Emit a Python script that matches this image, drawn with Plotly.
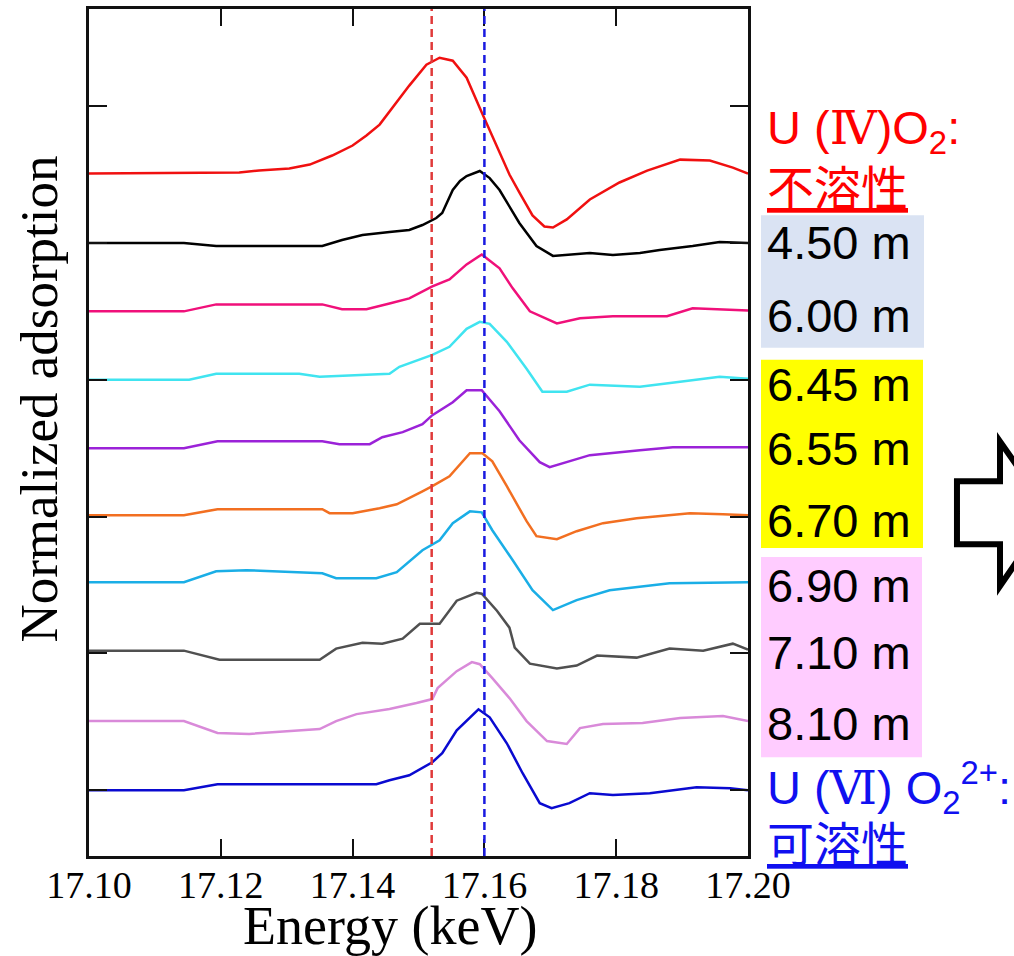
import plotly.graph_objects as go

# ---------------- data (energy in keV, normalized absorption relative to baseline) -------------
E_U4 = [17.1000, 17.1228, 17.1258, 17.1304, 17.1335, 17.1369, 17.1400, 17.1421, 17.1441, 17.1460,
        17.1486, 17.1512, 17.1532, 17.1552, 17.1573, 17.1596, 17.1616, 17.1638, 17.1653, 17.1673,
        17.1691, 17.1704, 17.1725, 17.1760, 17.1805, 17.1847, 17.1897, 17.1942, 17.1977, 17.2000]
A_U4 = [0.007, 0.015, 0.029, 0.044, 0.073, 0.139, 0.212, 0.285, 0.365, 0.489,
        0.650, 0.803, 0.854, 0.832, 0.708, 0.453, 0.234, 0.0, -0.131, -0.299,
        -0.380, -0.387, -0.328, -0.182, -0.058, 0.029, 0.109, 0.102, 0.051, 0.007]

E_450 = [17.1000, 17.1144, 17.1193, 17.1354, 17.1384, 17.1415, 17.1456, 17.1486, 17.1506, 17.1527,
         17.1536, 17.1543, 17.1552, 17.1563, 17.1573, 17.1593, 17.1608, 17.1623, 17.1653, 17.1679,
         17.1704, 17.1760, 17.1795, 17.1836, 17.1866, 17.1916, 17.1957, 17.2000]
A_450 = [0, 0, -0.022, -0.022, 0.022, 0.058, 0.080, 0.095, 0.131, 0.182,
         0.219, 0.292, 0.387, 0.453, 0.489, 0.526, 0.474, 0.387, 0.146, -0.022,
         -0.095, -0.073, -0.088, -0.073, -0.051, -0.022, 0.007, 0]

E_600 = [17.1000, 17.1144, 17.1193, 17.1354, 17.1384, 17.1421, 17.1456, 17.1486, 17.1521, 17.1547,
         17.1573, 17.1596, 17.1623, 17.1643, 17.1669, 17.1710, 17.1745, 17.1795, 17.1877, 17.1916,
         17.2000]
A_600 = [0, 0, 0.051, 0.051, 0.015, 0.015, 0.058, 0.095, 0.182, 0.234,
         0.343, 0.416, 0.314, 0.168, 0.0, -0.088, -0.051, -0.036, -0.036, 0.022,
         0.007]

E_645 = [17.1000, 17.1152, 17.1193, 17.1319, 17.1350, 17.1421, 17.1456, 17.1471, 17.1521, 17.1547,
         17.1573, 17.1593, 17.1608, 17.1634, 17.1664, 17.1688, 17.1725, 17.1760, 17.1836, 17.1897,
         17.1957, 17.2000]
A_645 = [0, 0, 0.044, 0.044, 0.022, 0.036, 0.044, 0.095, 0.182, 0.241,
         0.372, 0.423, 0.409, 0.277, 0.080, -0.088, -0.088, -0.036, -0.051, -0.015,
         0.022, 0.007]

E_655 = [17.1000, 17.1144, 17.1195, 17.1354, 17.1380, 17.1426, 17.1445, 17.1476, 17.1506, 17.1521,
         17.1552, 17.1573, 17.1596, 17.1623, 17.1653, 17.1684, 17.1699, 17.1725, 17.1760, 17.1836,
         17.1886, 17.2000]
A_655 = [0, 0, 0.051, 0.051, 0.029, 0.029, 0.080, 0.117, 0.175, 0.241,
         0.336, 0.423, 0.423, 0.270, 0.058, -0.102, -0.139, -0.102, -0.051, -0.015,
         0.007, 0.007]

E_670 = [17.1000, 17.1144, 17.1195, 17.1354, 17.1365, 17.1400, 17.1441, 17.1467, 17.1506, 17.1521,
         17.1547, 17.1578, 17.1597, 17.1612, 17.1634, 17.1664, 17.1679, 17.1710, 17.1740, 17.1780,
         17.1831, 17.1912, 17.1962, 17.2000]
A_670 = [0, 0, 0.044, 0.044, 0.015, 0.015, 0.051, 0.080, 0.175, 0.212,
         0.285, 0.453, 0.453, 0.394, 0.212, -0.044, -0.153, -0.175, -0.117, -0.058,
         -0.022, 0.015, 0.007, 0]

E_690 = [17.1000, 17.1144, 17.1193, 17.1239, 17.1354, 17.1375, 17.1436, 17.1467, 17.1506, 17.1532,
         17.1552, 17.1578, 17.1596, 17.1612, 17.1643, 17.1673, 17.1704, 17.1740, 17.1790, 17.1881,
         17.2000]
A_690 = [0, 0, 0.080, 0.088, 0.066, 0.029, 0.029, 0.073, 0.234, 0.307,
         0.431, 0.518, 0.511, 0.380, 0.161, -0.058, -0.204, -0.131, -0.058, -0.007,
         0]

E_710 = [17.1000, 17.1144, 17.1198, 17.1350, 17.1375, 17.1415, 17.1445, 17.1476, 17.1502, 17.1532,
         17.1558, 17.1588, 17.1596, 17.1619, 17.1638, 17.1646, 17.1669, 17.1710, 17.1740, 17.1771,
         17.1831, 17.1881, 17.1932, 17.1977, 17.2000]
A_710 = [0, 0, -0.066, -0.066, 0.015, 0.058, 0.051, 0.088, 0.197, 0.197,
         0.365, 0.423, 0.416, 0.292, 0.168, 0.022, -0.095, -0.131, -0.109, -0.036,
         -0.051, 0.015, 0.0, 0.051, 0.007]

E_810 = [17.1000, 17.1144, 17.1195, 17.1243, 17.1350, 17.1375, 17.1406, 17.1456, 17.1497, 17.1521,
         17.1529, 17.1558, 17.1581, 17.1593, 17.1612, 17.1638, 17.1664, 17.1695, 17.1725, 17.1745,
         17.1780, 17.1840, 17.1897, 17.1962, 17.2000]
A_810 = [-0.015, -0.015, -0.102, -0.109, -0.073, -0.015, 0.036, 0.073, 0.117, 0.146,
         0.226, 0.350, 0.416, 0.401, 0.299, 0.153, -0.015, -0.161, -0.182, -0.066,
         -0.036, -0.029, 0.007, 0.022, -0.015]

E_U6 = [17.1000, 17.1144, 17.1195, 17.1436, 17.1456, 17.1486, 17.1521, 17.1536, 17.1558, 17.1578,
        17.1591, 17.1608, 17.1634, 17.1658, 17.1684, 17.1702, 17.1729, 17.1760, 17.1795, 17.1851,
        17.1922, 17.1973, 17.2000]
A_U6 = [0, 0, 0.044, 0.044, 0.073, 0.109, 0.204, 0.270, 0.438, 0.533,
        0.591, 0.533, 0.343, 0.124, -0.095, -0.131, -0.095, -0.022, -0.036, -0.022,
        0.022, 0.015, 0]

series_names = ["U(IV)O2", "4.50 m", "6.00 m", "6.45 m", "6.55 m", "6.70 m",
                "6.90 m", "7.10 m", "8.10 m", "U(VI)O2 2+"]
series_E = [E_U4, E_450, E_600, E_645, E_655, E_670, E_690, E_710, E_810, E_U6]
series_A = [A_U4, A_450, A_600, A_645, A_655, A_670, A_690, A_710, A_810, A_U6]
offsets = [4.5, 4.0, 3.5, 3.0, 2.5, 2.01, 1.52, 1.02, 0.52, 0.0]
colors = ["#f01010", "#000000", "#f0107a", "#40e4f0", "#9b22d8", "#f26f21",
          "#1aaee6", "#505050", "#d98ad9", "#0a0ad0"]

ref_energies = [17.152, 17.160]
ref_colors = ["#e03a3a", "#1a1ae0"]

x_ticks = [17.10, 17.12, 17.14, 17.16, 17.18, 17.20]
x_tick_text = ["17.10", "17.12", "17.14", "17.16", "17.18", "17.20"]
y_ticks = [0, 1, 2, 3, 4, 5]

# ---------------- figure ----------------
W, H = 1014, 956
L, R, T, B = 89, 266, 6, 100


def px_x(px):
    return (px - L) / (W - L - R)


def px_y(py):
    return (H - B - py) / (H - T - B)


fig = go.Figure()

for e, a, off, c, n in zip(series_E, series_A, offsets, colors, series_names):
    fig.add_trace(go.Scatter(x=e, y=[v + off for v in a], mode="lines", name=n,
                             line=dict(color=c, width=2.5), showlegend=False))

for xe, c in zip(ref_energies, ref_colors):
    fig.add_vline(x=xe, line=dict(color=c, width=2.5, dash="8px,5px"), layer="above")

# background boxes for depth labels
boxes = [(761, 924, 213, 346, "#dae3f3"),
         (761, 923, 358, 547, "#ffff00"),
         (761, 922, 556, 757, "#ffccff")]
for x0, x1, y0, y1, col in boxes:
    fig.add_shape(type="rect", xref="paper", yref="paper",
                  x0=px_x(x0), x1=px_x(x1), y0=px_y(y1), y1=px_y(y0),
                  fillcolor=col, line=dict(width=0), layer="below")

# hollow arrow
pts = [(957, 480), (1000, 480), (1000, 440), (1050, 512), (1000, 585), (1000, 543), (957, 543)]
path = "M " + " L ".join(f"{px_x(x):.4f},{px_y(y):.4f}" for x, y in pts) + " Z"
fig.add_shape(type="path", xref="paper", yref="paper", path=path,
              fillcolor="white", line=dict(color="black", width=6))

sans = "Liberation Sans, Arial, Noto Sans CJK JP, sans-serif"
labels = [
    ("U (<span style='font-family:DejaVu Serif'>Ⅳ</span>)O<sub>2</sub>:", 128, "#ff0000", None),
    ("不溶性", 186, "#ff0000", "under"),
    ("4.50 m", 240, "black", None),
    ("6.00 m", 314, "black", None),
    ("6.45 m", 383, "black", None),
    ("6.55 m", 447, "black", None),
    ("6.70 m", 519, "black", None),
    ("6.90 m", 585, "black", None),
    ("7.10 m", 652, "black", None),
    ("8.10 m", 723, "black", None),
    ("U (<span style='font-family:DejaVu Serif'>Ⅵ</span>) O<sub>2</sub><sup>2+</sup>:", 787, "#1010f0", None),
    ("可溶性", 844, "#1010f0", "under"),
]
for txt, py, col, lp in labels:
    f = dict(family=sans, size=47, color=col)
    if lp:
        f["lineposition"] = lp
    fig.add_annotation(text=txt, xref="paper", yref="paper", x=px_x(765), y=px_y(py),
                       xanchor="left", yanchor="middle", showarrow=False, font=f)

# axis titles
serif = "Liberation Serif, Times New Roman, serif"
fig.add_annotation(text="Energy (keV)", xref="paper", yref="paper", x=px_x(390), y=px_y(926),
                   xanchor="center", yanchor="middle", showarrow=False,
                   font=dict(family=serif, size=54, color="black"))
fig.add_annotation(text="Normalized adsorption", xref="paper", yref="paper", x=px_x(39), y=px_y(398),
                   xanchor="center", yanchor="middle", showarrow=False, textangle=-90,
                   font=dict(family=serif, size=53, color="black"))

axis_common = dict(showline=True, linecolor="#111111", linewidth=2.5, mirror="ticks",
                   ticks="inside", tickcolor="#111111", tickwidth=2, showgrid=False, zeroline=False)

fig.update_xaxes(range=[17.10, 17.20], tickvals=x_ticks, ticktext=x_tick_text, ticklen=17,
                 tickfont=dict(family=serif, size=38, color="black"), ticklabelstandoff=-6,
                 **axis_common)
fig.update_yaxes(range=[-0.481, 5.71], tickvals=y_ticks, ticklen=18, showticklabels=False,
                 **axis_common)

fig.update_layout(width=W, height=H, margin=dict(l=L, r=R, t=T, b=B),
                  plot_bgcolor="white", paper_bgcolor="white", showlegend=False)

fig.write_html("out.html")
